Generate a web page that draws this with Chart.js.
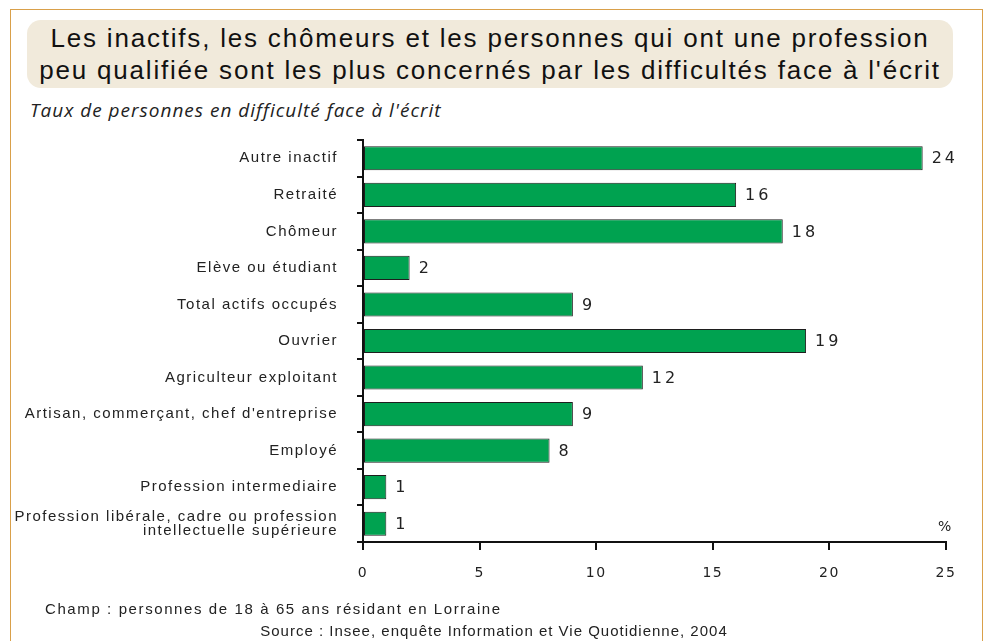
<!DOCTYPE html>
<html>
<head>
<meta charset="utf-8">
<script src="https://cdn.jsdelivr.net/npm/chart.js@4/dist/chart.umd.min.js"></script>
<style>
  html, body { margin: 0; padding: 0; background: #fff; }
  #wrap { position: relative; width: 988px; height: 641px; overflow: hidden; }
  #frame { position: absolute; left: 10px; top: 9px; width: 973px; height: 700px; border: 1px solid #d9a04a; box-sizing: border-box; }
  #titlebox { position: absolute; left: 27px; top: 20px; width: 926px; height: 68px; background: #f1eadb; border-radius: 14px; }
  #title { position: absolute; left: 27px; top: 22px; width: 926px; text-align: center; font-family: "Liberation Sans", Arial, sans-serif; font-size: 26px; letter-spacing: 1.8px; line-height: 32px; color: #111; }
  #subtitle { position: absolute; left: 30px; top: 97px; font-family: "Open Sans", sans-serif; font-style: italic; font-size: 19px; letter-spacing: 1px; color: #222; }
  .note { position: absolute; font-family: "Liberation Sans", Arial, sans-serif; font-size: 15px; color: #222; white-space: nowrap; }
  #champ { left: 45px; top: 600px; letter-spacing: 1.6px; }
  #source { left: 0; width: 988px; text-align: center; top: 622px; letter-spacing: 1px; }
  #pct { position: absolute; left: 938px; top: 518px; font-family: "DejaVu Sans", sans-serif; font-size: 14px; color: #222; }
  canvas { position: absolute; left: 0; top: 0; }
</style>
</head>
<body>
<div id="wrap">
  <div id="frame"></div>
  <div id="titlebox"></div>
  <div id="title">Les inactifs, les chômeurs et les personnes qui ont une profession<br>peu qualifiée sont les plus concernés par les difficultés face à l'écrit</div>
  <div id="subtitle">Taux de personnes en difficulté face à l'écrit</div>
  <canvas id="chart" width="988" height="641"></canvas>
  <div id="pct">%</div>
  <div class="note" id="champ">Champ : personnes de 18 à 65 ans résidant en Lorraine</div>
  <div class="note" id="source">Source : Insee, enquête Information et Vie Quotidienne, 2004</div>
</div>
<script>
const categories = [
  'Autre inactif',
  'Retraité',
  'Chômeur',
  'Elève ou étudiant',
  'Total actifs occupés',
  'Ouvrier',
  'Agriculteur exploitant',
  "Artisan, commerçant, chef d'entreprise",
  'Employé',
  'Profession intermediaire',
  ['Profession libérale, cadre ou profession', 'intellectuelle supérieure']
];
const rates = [24, 16, 18, 2, 9, 19, 12, 9, 8, 1, 1];
const xTicks = [0, 5, 10, 15, 20, 25];

// value labels at the end of each bar, plus letter spacing for the axis text
const spacingPlugin = {
  id: 'spacing',
  beforeDraw(chart) {
    chart.ctx.letterSpacing = '1.5px';
  },
  afterDatasetsDraw(chart) {
    const ctx = chart.ctx;
    const meta = chart.getDatasetMeta(0);
    ctx.save();
    ctx.letterSpacing = '3px';
    ctx.font = '16px "DejaVu Sans", sans-serif';
    ctx.fillStyle = '#222';
    ctx.textAlign = 'left';
    ctx.textBaseline = 'middle';
    meta.data.forEach((bar, i) => {
      ctx.fillText(String(rates[i]), bar.x + 9, bar.y + 1);
    });
    ctx.restore();
    // y axis labels are drawn after this point
    ctx.letterSpacing = '1.8px';
  },
  afterDraw(chart) {
    chart.ctx.letterSpacing = '0px';
  }
};

const ctx = document.getElementById('chart').getContext('2d');
new Chart(ctx, {
  type: 'bar',
  data: {
    labels: categories,
    datasets: [{
      data: rates,
      backgroundColor: '#00a250',
      borderColor: '#1e1e1e',
      borderWidth: 1,
      borderSkipped: false,
      barPercentage: 0.66,
      categoryPercentage: 1
    }]
  },
  options: {
    indexAxis: 'y',
    responsive: false,
    animation: false,
    layout: { padding: { left: 0, right: 42, top: 140, bottom: 59 } },
    plugins: {
      legend: { display: false },
      tooltip: { enabled: false }
    },
    scales: {
      x: {
        min: 0,
        max: 25,
        afterBuildTicks(scale) {
          scale.ticks = xTicks.map(v => ({ value: v }));
        },
        afterFit(scale) { scale.height = 40; },
        grid: { drawOnChartArea: false, drawTicks: true, tickLength: 8, color: '#111', lineWidth: 2 },
        border: { display: true, color: '#111', width: 2 },
        ticks: {
          padding: 15,
          color: '#222',
          font: { family: '"DejaVu Sans", sans-serif', size: 14 }
        }
      },
      y: {
        z: 1,
        afterFit(scale) { scale.width = 363; },
        grid: { offset: true, drawOnChartArea: false, drawTicks: true, tickLength: 6, color: '#111', lineWidth: 2 },
        border: { display: true, color: '#111', width: 2 },
        ticks: {
          padding: 19,
          color: '#222',
          autoSkip: false,
          font: { family: '"Liberation Sans", Arial, sans-serif', size: 15, lineHeight: 0.98 }
        }
      }
    }
  },
  plugins: [spacingPlugin]
});
</script>
</body>
</html>
